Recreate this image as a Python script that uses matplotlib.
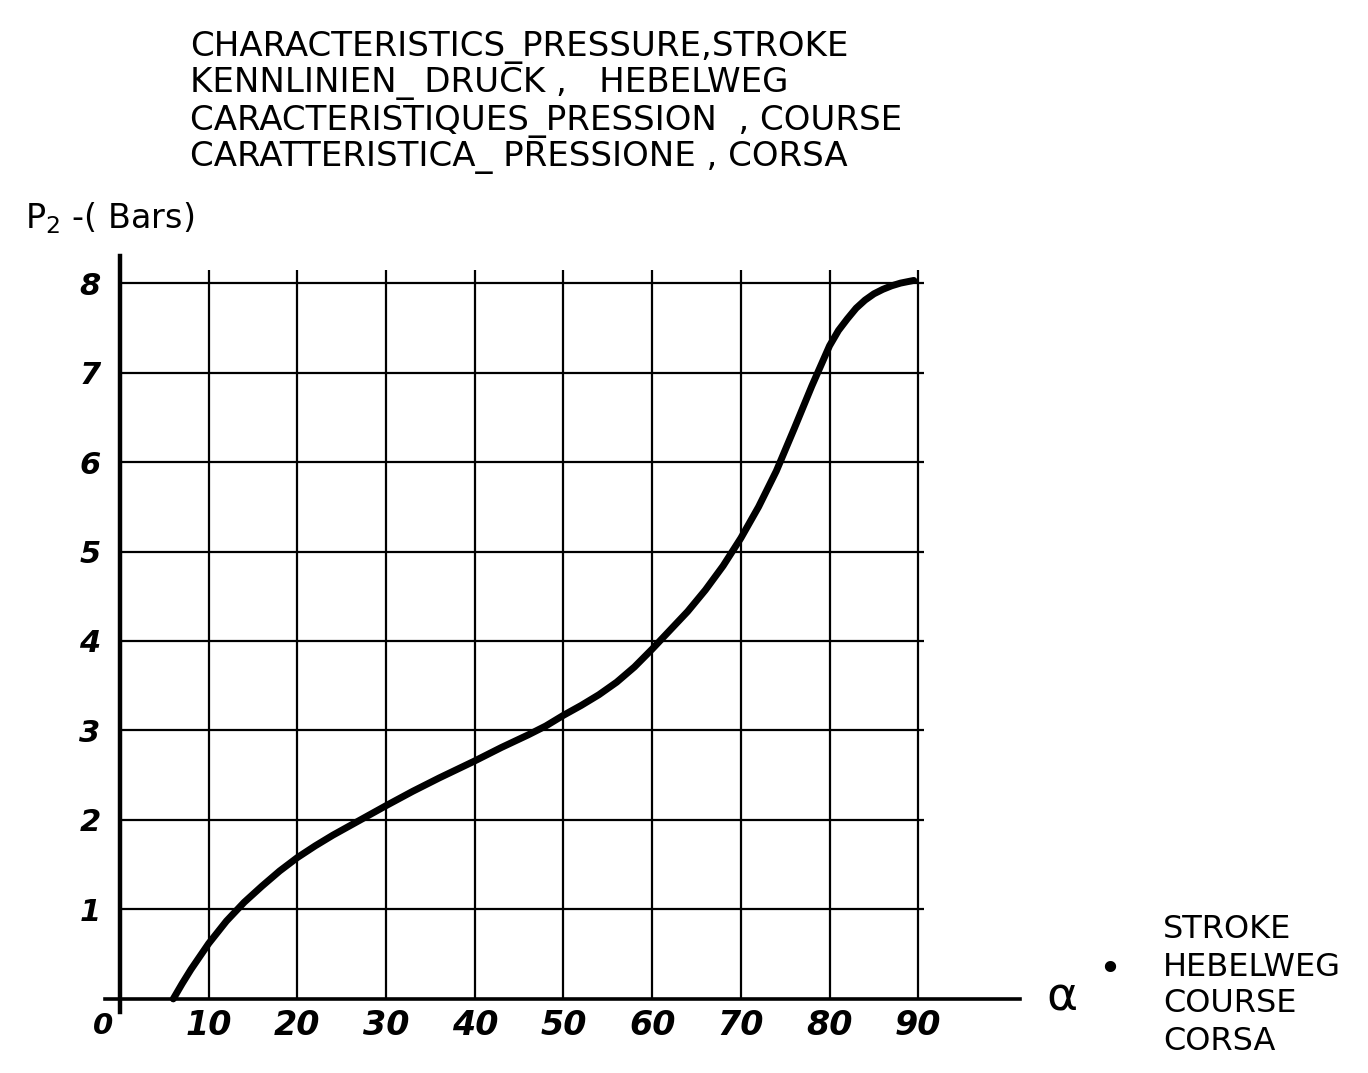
import matplotlib
matplotlib.use("Agg")
import matplotlib.pyplot as plt

# curve: stroke angle (deg) vs P2 (bar)
stroke = [6, 7, 8, 10, 12, 14, 16, 18, 20, 22, 24, 26, 28, 30, 33, 36, 40, 43, 46,
          48, 50, 52, 54, 56, 58, 60, 62, 64, 66, 68, 70, 72, 74, 76, 78, 80, 81,
          82, 83, 84, 85, 86, 87, 88, 89.5]
pressure = [0, 0.17, 0.33, 0.62, 0.87, 1.08, 1.26, 1.43, 1.58, 1.71, 1.83, 1.94,
            2.05, 2.16, 2.32, 2.47, 2.66, 2.81, 2.95, 3.05, 3.17, 3.28, 3.40, 3.54,
            3.71, 3.91, 4.12, 4.33, 4.57, 4.84, 5.15, 5.5, 5.9, 6.37, 6.85, 7.3,
            7.47, 7.6, 7.72, 7.81, 7.88, 7.93, 7.97, 8.0, 8.03]

x_ticks = [10, 20, 30, 40, 50, 60, 70, 80, 90]
y_ticks = [1, 2, 3, 4, 5, 6, 7, 8]

title_lines = [
    "CHARACTERISTICS_PRESSURE,STROKE",
    "KENNLINIEN_ DRUCK ,   HEBELWEG",
    "CARACTERISTIQUES_PRESSION  , COURSE",
    "CARATTERISTICA_ PRESSIONE , CORSA",
]
stroke_words = ["STROKE", "HEBELWEG", "COURSE", "CORSA"]

W, H = 1368, 1073
fig = plt.figure(figsize=(W / 100, H / 100), dpi=100)
ax = fig.add_axes([100 / W, 1 - 1015 / H, 930 / W, 765 / H])
ax.set_xlim(-2.26, 102.6)
ax.set_ylim(-0.18, 8.37)

# grid
ax.vlines(x_ticks, 0, 8.15, color="black", lw=1.6)
ax.hlines(y_ticks, 0, 90.6, color="black", lw=1.6)

# axes as spines through the origin
for s in ["top", "right"]:
    ax.spines[s].set_visible(False)
ax.spines["bottom"].set_position(("data", 0))
ax.spines["left"].set_position(("data", 0))
ax.spines["bottom"].set_bounds(-1.7, 101.5)
ax.spines["left"].set_bounds(-0.15, 8.3)
ax.spines["bottom"].set_linewidth(2.6)
ax.spines["left"].set_linewidth(3.2)

hand = dict(family="DejaVu Sans", weight="bold", style="italic")
ax.set_xticks(x_ticks)
ax.set_xticklabels([str(v) for v in x_ticks], fontsize=24, **hand)
ax.set_yticks(y_ticks)
ax.set_yticklabels([str(v) for v in y_ticks], fontsize=22, **hand)
ax.tick_params(axis="x", length=0, pad=7)
ax.tick_params(axis="y", length=0, pad=14)
ax.text(-1.9, -0.3, "0", ha="center", va="center", fontsize=21, **hand)

ax.plot(stroke, pressure, color="black", lw=5, solid_capstyle="round",
        solid_joinstyle="round")

# texts
for i, line in enumerate(title_lines):
    fig.text(190 / W, 1 - (47 + i * 37) / H, line, fontsize=24.5,
             ha="left", va="center", family="DejaVu Sans")
fig.text(25 / W, 1 - 218 / H, "P$_2$ -( Bars)", fontsize=24,
         ha="left", va="center", family="DejaVu Sans")
fig.text(1062 / W, 1 - 998 / H, "\u03b1", fontsize=34,
         ha="center", va="center", family="DejaVu Sans")
fig.text(1110 / W, 1 - 970 / H, "\u2022", fontsize=28,
         ha="center", va="center")
for i, w in enumerate(stroke_words):
    fig.text(1163 / W, 1 - (930 + i * 37) / H, w, fontsize=23,
             ha="left", va="center", family="DejaVu Sans")

fig.savefig("out.png", dpi=100)
